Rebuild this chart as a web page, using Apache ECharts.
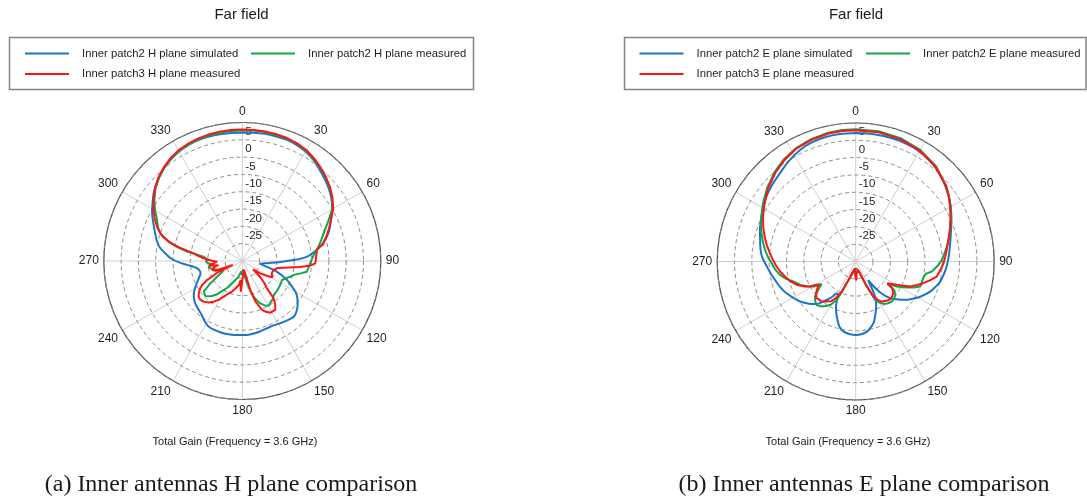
<!DOCTYPE html>
<html>
<head>
<meta charset="utf-8">
<title>Far field</title>
<script src="https://cdn.jsdelivr.net/npm/echarts@6/dist/echarts.min.js"></script>
<style>
  html, body { margin: 0; padding: 0; background: #ffffff; }
  #chart { width: 1087px; height: 499px; }
</style>
</head>
<body>
<div id="chart"></div>
<script>
// Gain patterns at 3.6 GHz, pairs of [angle in degrees, total gain in dB]

// H plane
const hPatch2Simulated = [[0,7.1],[5,7.2],[10,7.3],[15,7.3],[20,7.3],[25,7.0],[30,6.5],[35,5.7],[40,4.6],[45,3.6],[50,2.6],[55,1.4],[60,0.0],[65,-1.8],[70,-3.2],[74,-4.6],[78,-6.3],[81,-7.9],[84,-9.8],[86.5,-11.6],[89,-15.2],[92,-19.5],[95,-22.8],[99,-24.7],[102,-23.6],[106,-20.6],[110,-17.8],[113,-16.0],[117,-14.0],[120,-12.3],[124,-10.8],[128.5,-9.6],[133,-8.6],[137,-8.1],[142,-8.4],[148,-8.9],[154,-9.3],[160,-9.3],[166,-9.0],[171,-8.8],[176,-8.6],[180,-8.6],[186,-8.5],[194,-8.4],[200,-8.5],[207,-8.7],[212,-9.5],[217,-10.5],[222,-11.1],[228,-11.7],[232,-12.3],[236,-13.1],[240,-14.2],[244,-15.4],[249,-16.6],[253.5,-17.4],[257,-17.4],[261,-16.7],[264,-15.4],[266,-14.0],[269,-11.6],[272,-9.4],[275,-8.0],[279,-6.0],[283,-4.7],[288,-3.5],[293,-2.1],[298,-0.5],[303,0.9],[308,2.4],[313,3.6],[318,4.7],[323,5.6],[328,6.3],[333,6.8],[338,7.1],[343,7.2],[348,7.2],[354,7.1],[360,7.1]];
const hPatch2Measured = [[0,7.7],[5,7.8],[10,7.8],[15,7.7],[20,7.6],[25,7.3],[30,6.8],[35,6.0],[40,5.0],[45,4.0],[50,2.9],[55,1.6],[60,0.0],[64.6,-2.4],[68,-3.9],[71.2,-5.2],[75,-6.4],[79.4,-7.6],[82,-8.5],[85.2,-9.3],[88.5,-9.9],[92,-10.4],[96,-10.8],[99.4,-11.1],[102,-12.8],[105,-14.5],[108,-15.4],[112,-16.5],[115.6,-17.3],[121,-17.1],[127,-16.9],[132,-16.8],[137.3,-16.6],[141,-16.0],[144.8,-15.6],[149.7,-15.0],[153,-15.6],[157,-16.7],[160,-18.0],[162.4,-19.2],[165,-21.0],[168,-23.4],[172,-26.0],[176,-27.5],[180,-27.3],[183,-26.0],[186,-27.0],[189,-26.6],[193,-25.4],[198,-24.6],[202.8,-23.5],[208,-21.5],[212.8,-20.0],[217,-18.0],[221,-16.6],[224,-15.8],[226.6,-15.3],[229,-15.4],[231.6,-15.8],[235,-18.7],[238,-21.5],[242,-23.5],[246,-24.2],[250,-22.6],[255,-21.0],[259.3,-20.1],[262,-20.8],[264,-21.6],[266,-20.2],[269,-19.5],[272.7,-19.8],[276.4,-18.7],[279.6,-13.8],[282,-10.8],[284.7,-8.0],[288.6,-5.0],[292,-3.7],[295.7,-2.7],[300,-0.9],[305,1.0],[310,2.7],[315,4.0],[320,5.1],[325,6.0],[330,6.6],[335,7.0],[340,7.3],[345,7.5],[350,7.6],[355,7.7],[360,7.7]];
const hPatch3Measured = [[0,8.0],[5,8.0],[10,8.0],[15,7.9],[20,7.8],[25,7.5],[30,7.0],[35,6.2],[40,5.2],[45,4.2],[50,3.1],[55,1.8],[60,0.3],[65,-1.7],[70.2,-3.5],[73.5,-4.6],[76.6,-5.8],[78.5,-6.2],[79.4,-7.4],[81.6,-8.2],[86,-8.6],[91.8,-8.9],[93.9,-10.3],[96,-13.5],[98,-16.5],[101,-19.5],[106,-20.6],[112,-20.8],[118.8,-20.2],[121.5,-22.0],[124.4,-23.7],[128,-26.1],[132,-23.0],[135,-21.0],[138,-19.4],[140,-15.9],[143,-14.2],[146,-13.0],[151.5,-13.0],[155,-13.8],[158,-14.8],[162,-17.7],[164.6,-21.3],[167,-26.3],[171,-27.5],[175,-27.0],[178,-25.5],[181,-25.0],[183,-21.1],[185,-24.5],[188,-23.0],[194,-21.8],[198.6,-20.7],[203,-19.8],[207.6,-18.4],[211,-17.0],[215.2,-15.6],[219,-14.6],[223.6,-13.8],[227,-13.5],[230.8,-13.7],[234,-14.5],[237,-15.5],[239,-16.5],[241.7,-18.4],[243.5,-20.8],[245.5,-22.5],[248,-27.0],[250,-21.8],[253.5,-20.9],[257,-21.5],[260,-23.0],[262,-20.2],[265,-21.5],[268.5,-22.7],[271,-21.0],[274,-18.8],[277,-17.0],[279,-15.8],[282,-11.5],[284.3,-8.5],[287,-6.0],[291,-3.8],[296,-1.8],[300,-0.4],[305,1.3],[310,2.9],[315,4.2],[320,5.3],[325,6.2],[330,6.9],[335,7.3],[340,7.6],[345,7.8],[350,7.9],[355,8.0],[360,8.0]];

// E plane
const ePatch2Simulated = [[0,7.1],[5,7.1],[10,7.1],[15,7.1],[20,7.1],[26.6,6.9],[32,6.5],[38.8,5.8],[45,4.8],[50,3.8],[55,2.8],[59.7,1.7],[65,0.5],[69.8,-0.6],[75,-1.6],[79,-2.2],[84,-2.8],[89,-3.3],[95,-3.9],[100,-4.5],[104,-5.0],[108,-5.9],[112,-6.8],[116,-8.0],[120,-9.2],[124,-10.6],[128,-12.0],[132,-13.6],[137,-15.6],[141,-18.0],[144,-21.0],[146,-23.5],[148,-22.0],[150,-19.6],[152.2,-17.7],[155,-16.0],[157.2,-14.9],[160,-13.5],[163,-11.9],[166,-10.8],[170.3,-9.6],[175,-9.0],[180,-8.8],[185,-9.0],[190,-9.5],[194,-10.6],[197.4,-12.4],[200.5,-14.0],[203.6,-15.8],[206,-17.8],[208.5,-19.3],[211,-19.2],[213,-18.2],[215,-17.1],[219,-15.2],[222.7,-13.3],[228,-11.8],[234.3,-10.2],[240,-9.1],[245.3,-8.0],[251,-7.0],[257.2,-6.1],[262,-5.2],[266.8,-4.3],[273,-2.9],[278,-2.2],[282.8,-1.7],[288,-0.9],[293.8,-0.1],[300,0.9],[306,1.9],[313,2.8],[319.4,3.6],[326,4.8],[333.5,6.0],[340,6.7],[346.9,7.0],[353,7.1],[360,7.1]];
const ePatch2Measured = [[0,8.2],[10,8.2],[20,7.9],[30,7.2],[40,6.0],[50,4.1],[55,2.9],[60,1.7],[65,0.4],[70,-0.9],[75,-2.0],[80.6,-3.3],[85,-4.3],[88.9,-5.1],[93,-6.3],[97.5,-7.8],[100,-9.5],[103.8,-9.9],[108,-10.0],[111.2,-10.0],[114,-11.5],[117,-13.5],[121.4,-16.1],[123,-17.5],[125,-18.8],[126.5,-16.2],[130,-15.0],[134,-14.6],[138,-14.4],[143,-14.8],[146.8,-15.4],[150,-16.3],[153.2,-17.6],[156.3,-22.1],[159,-25.5],[163,-27.0],[170,-27.5],[176,-28.0],[180,-28.5],[184,-28.0],[190,-27.5],[196,-26.0],[200,-24.5],[202.6,-23.2],[204.5,-20.0],[206.4,-17.6],[210,-15.6],[213.2,-14.7],[217,-13.7],[222,-13.1],[226,-13.7],[229.3,-14.5],[233,-16.5],[236.7,-18.2],[239,-16.0],[242.2,-14.5],[247,-12.7],[252.2,-11.1],[256,-9.3],[260,-7.8],[264,-6.7],[268.9,-5.7],[273,-4.6],[277.3,-3.6],[282,-2.6],[288,-1.3],[295,0.1],[302,1.6],[310,3.3],[318,4.9],[325,6.1],[332,7.0],[340,7.6],[348,8.0],[354,8.2],[360,8.2]];
const ePatch3Measured = [[0,7.9],[10,7.9],[20,7.6],[30,7.0],[40,5.8],[50,4.0],[55,2.8],[60,1.5],[65,0.2],[70,-1.0],[75,-2.1],[82.7,-3.5],[87,-4.1],[91,-4.6],[95,-5.3],[100.5,-6.2],[104,-7.8],[107.8,-9.5],[111,-11.0],[114.7,-12.7],[117,-14.5],[119.6,-16.4],[122,-17.8],[124.4,-18.9],[126,-17.0],[130,-15.8],[134,-15.4],[137.6,-15.3],[142,-15.6],[147,-16.2],[150,-17.2],[153.2,-18.6],[156.7,-23.2],[160,-26.5],[166,-27.5],[172,-27.8],[176,-26.5],[178,-24.5],[180,-24.3],[182,-26.0],[186,-28.0],[193,-28.0],[198,-26.5],[202,-23.8],[205,-20.5],[208,-18.0],[212,-16.5],[216,-15.7],[221,-14.8],[226.8,-14.5],[231,-15.2],[235,-16.5],[238,-17.5],[240,-16.5],[241.3,-15.0],[244,-13.5],[248.4,-11.7],[253,-10.3],[258,-9.1],[262,-8.1],[266.4,-7.1],[271,-6.1],[275.6,-5.1],[280,-4.0],[285,-2.8],[290,-1.6],[296,-0.2],[302,1.1],[310,3.0],[318,4.6],[325,5.8],[332,6.8],[340,7.4],[348,7.8],[354,7.9],[360,7.9]];

// Axis scales
const angleTicks = [0, 30, 60, 90, 120, 150, 180, 210, 240, 270, 300, 330];
const gainMin = -30, gainMax = 10, gainStep = 5;

const BLUE = '#1c74c4', GREEN = '#14a54a', RED = '#ff1414';
const SANS = 'Liberation Sans, Arial, sans-serif';

const names = {
  h: ['Inner patch2 H plane simulated', 'Inner patch2 H plane measured', 'Inner patch3 H plane measured'],
  e: ['Inner patch2 E plane simulated', 'Inner patch2 E plane measured', 'Inner patch3 E plane measured']
};

function angleAxis(polarIndex) {
  return {
    polarIndex: polarIndex,
    type: 'value', min: 0, max: 360, interval: 30,
    startAngle: 90, clockwise: true,
    axisLine: { show: true, lineStyle: { color: '#4a4a4a', width: 1.2 } },
    axisTick: { show: false },
    splitLine: { show: true, lineStyle: { color: '#cfcfcf', width: 1 } },
    axisLabel: {
      margin: 5, color: '#1e1e1e', fontSize: 12, fontFamily: SANS,
      formatter: v => (angleTicks.indexOf(v) >= 0 ? String(v) : '')
    }
  };
}

function radiusAxis(polarIndex) {
  return {
    polarIndex: polarIndex,
    type: 'value', min: gainMin, max: gainMax, interval: gainStep,
    axisLine: { show: false },
    axisTick: { show: false },
    splitLine: { show: true, lineStyle: { color: '#8c8c8c', width: 1, type: [4, 3] } },
    axisLabel: {
      show: true, color: '#1e1e1e', fontSize: 11.5, fontFamily: SANS,
      align: 'left', verticalAlign: 'bottom', margin: -3, padding: [0, 0, 2, 0],
      formatter: v => (v === gainMax || v === gainMin ? '' : String(v))
    },
    z: 3
  };
}

function curve(name, pairs, color, polarIndex, smooth) {
  return {
    name: name, type: 'line', coordinateSystem: 'polar', polarIndex: polarIndex,
    data: pairs.map(p => [p[1], p[0]]),
    showSymbol: false, symbol: 'none', smooth: smooth,
    color: color,
    lineStyle: { color: color, width: 2 },
    animation: false, silent: true
  };
}

function legendItem(name, x, y) {
  return {
    data: [name], left: x, top: y - 7, padding: 0,
    icon: 'rect', itemWidth: 44, itemHeight: 2, selectedMode: false,
    textStyle: { fontSize: 11.3, fontFamily: SANS, color: '#1e1e1e', lineHeight: 14, padding: [0, 0, 0, 8] }
  };
}

function label(text, x, y, font) {
  return { type: 'text', x: x, y: y, silent: true,
    style: { text: text, font: font, fill: '#1a1a1a', align: 'center', verticalAlign: 'middle' } };
}

const chart = echarts.init(document.getElementById('chart'), null, { renderer: 'canvas' });

chart.setOption({
  backgroundColor: '#ffffff',
  animation: false,
  polar: [
    { center: [242.3, 261], radius: 138.5 },
    { center: [855.7, 261.5], radius: 138.5 }
  ],
  angleAxis: [angleAxis(0), angleAxis(1)],
  radiusAxis: [radiusAxis(0), radiusAxis(1)],
  legend: [
    legendItem(names.h[0], 25, 53.5),
    legendItem(names.h[1], 251, 53.5),
    legendItem(names.h[2], 25, 74),
    legendItem(names.e[0], 639.5, 53.5),
    legendItem(names.e[1], 866, 53.5),
    legendItem(names.e[2], 639.5, 74)
  ],
  series: [
    curve(names.h[0], hPatch2Simulated, BLUE, 0, 0.35),
    curve(names.h[1], hPatch2Measured, GREEN, 0, false),
    curve(names.h[2], hPatch3Measured, RED, 0, false),
    curve(names.e[0], ePatch2Simulated, BLUE, 1, 0.35),
    curve(names.e[1], ePatch2Measured, GREEN, 1, false),
    curve(names.e[2], ePatch3Measured, RED, 1, false)
  ],
  graphic: [
    { type: 'rect', silent: true, shape: { x: 9.5, y: 37.5, width: 464, height: 52 },
      style: { fill: 'none', stroke: '#858585', lineWidth: 1.5 } },
    { type: 'rect', silent: true, shape: { x: 624.5, y: 37.5, width: 461.5, height: 52 },
      style: { fill: 'none', stroke: '#858585', lineWidth: 1.5 } },
    label('Far field', 241.5, 15, '15px ' + SANS),
    label('Far field', 856, 15, '15px ' + SANS),
    label('Total Gain (Frequency = 3.6 GHz)', 235, 441.5, '11px ' + SANS),
    label('Total Gain (Frequency = 3.6 GHz)', 848, 441.5, '11px ' + SANS),
    label('(a) Inner antennas H plane comparison', 231, 485, '24px Liberation Serif, Times New Roman, serif'),
    label('(b) Inner antennas E plane comparison', 864, 485, '24px Liberation Serif, Times New Roman, serif')
  ]
});
</script>
</body>
</html>
